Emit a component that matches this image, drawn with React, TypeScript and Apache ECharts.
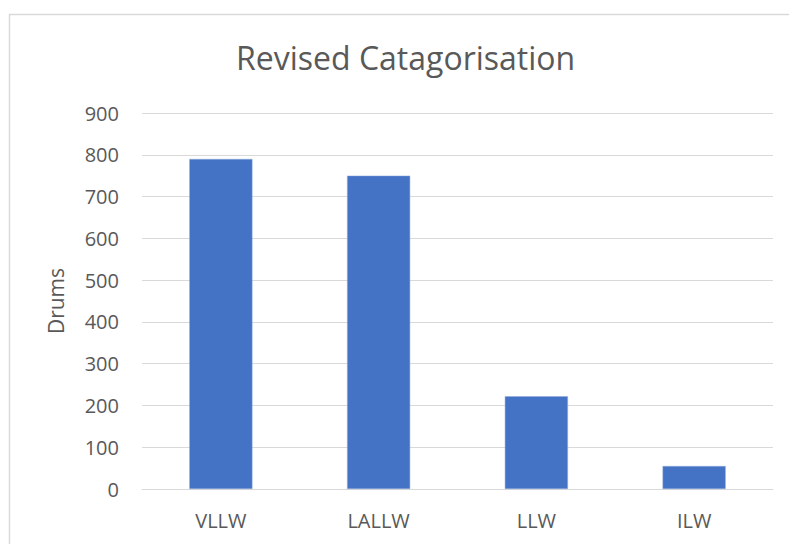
import React, { useEffect, useRef } from "react";
import * as echarts from "echarts";

const categories = ["VLLW", "LALLW", "LLW", "ILW"];
const drums = [790, 750, 222, 55];
const titleText = "Revised Catagorisation";
const yAxisName = "Drums";

export default function App() {
  const ref = useRef<HTMLDivElement>(null);
  useEffect(() => {
    if (!ref.current) return;
    const chart = echarts.init(ref.current, null, { renderer: "svg" });
    const font = "'Open Sans', 'Noto Sans', sans-serif";
    chart.setOption({
      animation: false,
      backgroundColor: "#ffffff",
      textStyle: { fontFamily: font },
      title: {
        text: titleText,
        left: 236,
        top: 41,
        padding: 0,
        textStyle: { fontFamily: font, fontSize: 32, fontWeight: "normal", color: "#595959" },
      },
      graphic: [
        {
          type: "rect",
          shape: { x: 9.5, y: 14.5, width: 900, height: 700 },
          style: { fill: "none", stroke: "#d9d9d9", lineWidth: 1.5 },
          silent: true,
        },
      ],
      grid: { left: 142, right: 16, top: 113, bottom: 55, containLabel: false },
      xAxis: {
        type: "category",
        data: categories,
        axisLine: { show: true, lineStyle: { color: "#d9d9d9", width: 1 } },
        axisTick: { show: false },
        axisLabel: { color: "#595959", fontSize: 20, margin: 21, fontFamily: font },
      },
      yAxis: {
        type: "value",
        min: 0,
        max: 900,
        interval: 100,
        name: yAxisName,
        nameLocation: "middle",
        nameGap: 76,
        nameRotate: 90,
        nameTextStyle: { color: "#595959", fontSize: 21, fontFamily: font },
        axisLine: { show: false },
        axisTick: { show: false },
        axisLabel: { color: "#595959", fontSize: 20, margin: 23, fontFamily: font },
        splitLine: { lineStyle: { color: "#d9d9d9", width: 1 } },
      },
      series: [
        {
          type: "bar",
          data: drums,
          barWidth: "40%",
          itemStyle: { color: "#4472C4", borderColor: "#8faadc", borderWidth: 0.5 },
        },
      ],
    });
    return () => chart.dispose();
  }, []);
  return (
    <div
      ref={ref}
      style={{ position: "fixed", left: 0, top: 0, width: 789, height: 544 }}
    />
  );
}
